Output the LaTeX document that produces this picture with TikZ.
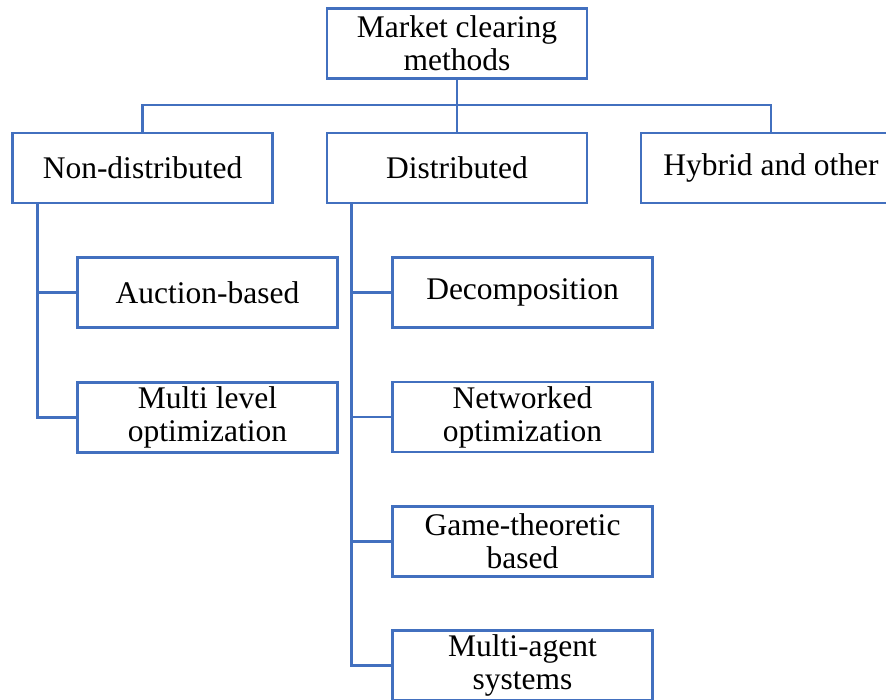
\documentclass[tikz,border=0pt]{standalone}
\usepackage{fontspec}
\setmainfont{Liberation Serif}
\usepackage{tikz}
\usepackage{xcolor}
\definecolor{boxblue}{HTML}{4270BF}

\tikzset{
  catbox/.style={draw=boxblue,line width=2.8pt,fill=white,minimum width=260,minimum height=70,
    align=center,inner sep=0pt,font=\fontsize{31.5}{33}\selectfont},
  link/.style={boxblue,line width=2.8pt}
}

\begin{document}
\begin{tikzpicture}[x=1pt,y=-1pt]
  % page frame (reference is cut at the right and bottom)
  \useasboundingbox (0,0) rectangle (886,700);
  \clip (0,0) rectangle (886,700);

  % root
  \node[catbox] (root) at (457,43.5) {Market clearing\\methods};

  % first level
  \node[catbox] (nondist) at (142.5,168) {Non-distributed};
  \node[catbox] (dist) at (457,168) {Distributed};
  \node[catbox] (hybrid) at (771,168) {Hybrid and other};

  % non-distributed children
  \node[catbox] (auction) at (207.5,292.5) {Auction-based};
  \node[catbox] (multilevel) at (207.5,417.5) {Multi level\\optimization};

  % distributed children
  \node[catbox] (decomp) at (522.5,292.5) {Decomposition};
  \node[catbox] (networked) at (522.5,417) {Networked\\optimization};
  \node[catbox] (game) at (522.5,541.5) {Game-theoretic\\based};
  \node[catbox] (multiagent) at (522.5,665.5) {Multi-agent\\systems};

  % bus from root to first level
  \coordinate (bus) at (457,105);
  \draw[link] (root.south) -- (dist.north);
  \draw[link] (nondist.north) -- (nondist.north |- bus) -- (hybrid.north |- bus) -- (hybrid.north);

  % trunk under non-distributed
  \coordinate (ndtrunk) at ([xshift=26pt]nondist.south west);
  \draw[link] (ndtrunk) |- (multilevel.west);
  \draw[link] (ndtrunk |- auction.west) -- (auction.west);

  % trunk under distributed
  \coordinate (dtrunk) at ([xshift=26pt]dist.south west);
  \draw[link] (dtrunk) |- (multiagent.west);
  \draw[link] (dtrunk |- decomp.west) -- (decomp.west);
  \draw[link] (dtrunk |- networked.west) -- (networked.west);
  \draw[link] (dtrunk |- game.west) -- (game.west);
\end{tikzpicture}
\end{document}
